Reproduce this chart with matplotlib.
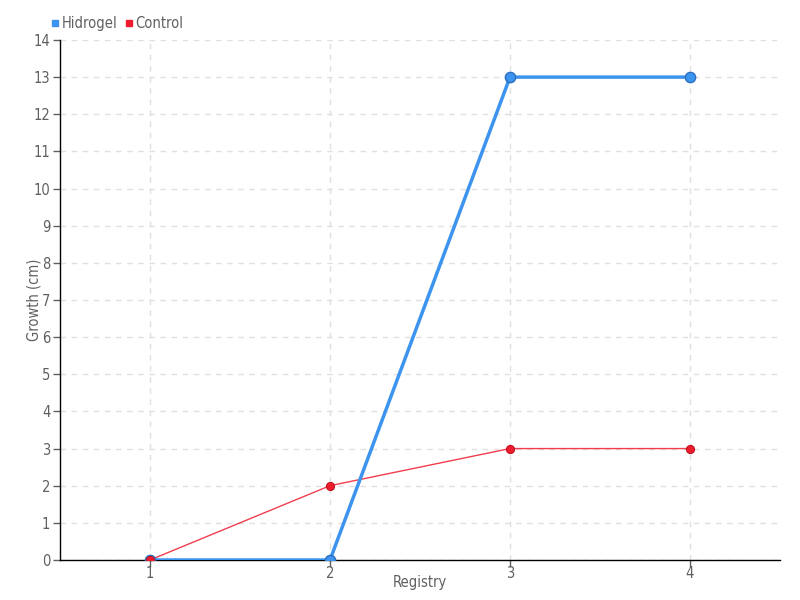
import matplotlib
matplotlib.use('Agg')
import matplotlib.pyplot as plt
from matplotlib.lines import Line2D

registry = [1, 2, 3, 4]
hidrogel = [0, 0, 13, 13]
control = [0, 2, 3, 3]
yticks = list(range(0, 15))

plt.rcParams['font.family'] = ['DejaVu Sans']
plt.rcParams['font.stretch'] = 'condensed'

blue = '#3d94ee'
red = '#ee1c2e'
txt = '#606060'

fig = plt.figure(figsize=(8, 6), dpi=100)
ax = fig.add_axes([0.075, 0.0667, 0.9, 0.8667])

ax.plot(registry, control, color=red, lw=1, alpha=0.85, zorder=3)
ax.plot(registry, hidrogel, color=blue, lw=2.5, zorder=5)
ax.scatter(registry, hidrogel, s=55, color=blue, edgecolor='#2a6fc0', lw=1, zorder=6)
ax.scatter(registry[:1], control[:1], s=34, color=red, edgecolor='#c0141f', lw=0.8, zorder=7)
ax.scatter(registry[1:], control[1:], s=34, color=red, edgecolor='#c0141f', lw=0.8, zorder=4)

ax.set_xlim(0.5, 4.5)
ax.set_ylim(0, 14)
ax.set_xticks(registry)
ax.set_yticks(yticks)
ax.grid(True, color='#e0e0e0', ls=(0, (4, 4)), lw=1)
ax.set_axisbelow(True)
for s in ['top', 'right']:
    ax.spines[s].set_visible(False)
for s in ['left', 'bottom']:
    ax.spines[s].set_color('black')
    ax.spines[s].set_linewidth(1)
ax.tick_params(axis='both', colors=txt, labelsize=10.5, length=5, width=1)
ax.tick_params(axis='y', pad=2)
ax.tick_params(axis='x', pad=-1)
ax.set_xlabel('Registry', color=txt, fontsize=10.5, labelpad=-4)
ax.set_ylabel('Growth (cm)', color=txt, fontsize=10.5, labelpad=-6)

handles = [Line2D([], [], marker='s', ls='', color=blue, markersize=4),
           Line2D([], [], marker='s', ls='', color=red, markersize=4)]
fig.legend(handles, ['Hidrogel', 'Control'], loc='upper left', bbox_to_anchor=(0.045, 0.995),
           ncol=2, frameon=False, fontsize=10.5, handletextpad=0.05, columnspacing=0.4,
           labelcolor=txt, handlelength=0.8)

fig.savefig('out.png', dpi=100)
